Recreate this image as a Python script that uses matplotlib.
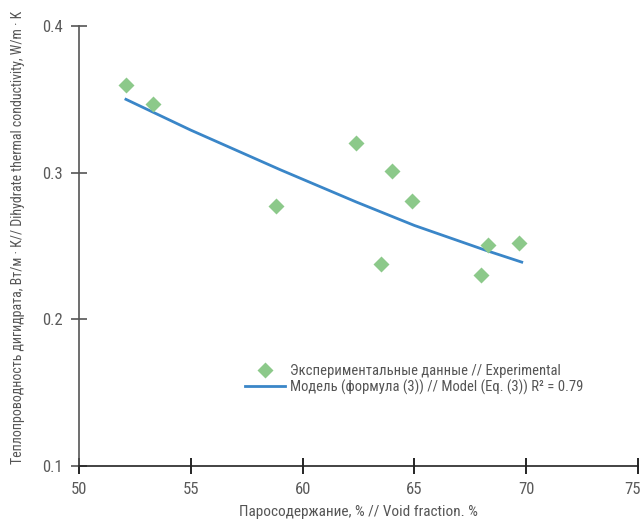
import matplotlib
matplotlib.use('Agg')
import matplotlib.pyplot as plt
import matplotlib.transforms as mtransforms
from matplotlib.lines import Line2D

# данные эксперимента
void_frac = [52.1, 53.3, 58.8, 62.4, 63.5, 64.0, 64.9, 68.0, 68.3, 69.7]
conductivity = [0.360, 0.347, 0.277, 0.320, 0.238, 0.301, 0.281, 0.230, 0.251, 0.252]

model_x = [52.1, 55.0, 59.0, 62.4, 65.0, 68.2, 69.8]
model_y = [0.350, 0.329, 0.302, 0.280, 0.264, 0.247, 0.239]

x_ticks = [50, 55, 60, 65, 70, 75]
y_ticks = [0.1, 0.2, 0.3, 0.4]

plt.rcParams['font.family'] = ['Roboto Condensed', 'Barlow Semi Condensed', 'DejaVu Sans']
plt.rcParams['font.stretch'] = 'condensed'

fig = plt.figure(figsize=(6.4, 5.22), dpi=100)
ax = fig.add_axes([0.1234, 0.1073, 0.8735, 0.8429])

ax.plot(model_x, model_y, color='#3a86c8', lw=2.0, zorder=2)
ax.plot(void_frac, conductivity, 'D', color='#8cc98a', markersize=8, mec='none', zorder=3)

ax.set_xlim(50, 75)
ax.set_ylim(0.1, 0.4)
ax.set_xticks(x_ticks)
ax.set_yticks(y_ticks)
ax.set_xticklabels([str(t) for t in x_ticks])
ax.set_yticklabels(['%.1f' % t for t in y_ticks])

for s in ['top', 'right']:
    ax.spines[s].set_visible(False)
ax.spines['left'].set_color('#555555')
ax.spines['bottom'].set_color('#222222')
ax.spines['left'].set_linewidth(1.2)
ax.spines['bottom'].set_linewidth(1.2)
ax.tick_params(axis='both', direction='inout', length=11, width=1.2,
               labelsize=12, labelcolor='#5a5a5a', pad=6)
ax.tick_params(axis='y', colors='#555555', labelcolor='#5a5a5a')

# последняя подпись "75" чуть левее, чтобы не обрезалась
last = ax.get_xticklabels()[-1]
last.set_transform(last.get_transform() + mtransforms.ScaledTranslation(-6 / 100, 0, fig.dpi_scale_trans))

ax.set_xlabel('Паросодержание, % // Void fraction. %', fontsize=11, color='#555555', labelpad=6)
ax.set_ylabel('Теплопроводность дигидрата, Вт/м · К// Dihydrate thermal conductivity, W/m · K',
              fontsize=10, color='#555555')
ax.yaxis.set_label_coords(-0.097, 0.52)

handles = [Line2D([], [], ls='none', marker='D', color='#8cc98a', mec='none', markersize=8),
           Line2D([], [], color='#3a86c8', lw=2.0)]
labels = ['Экспериментальные данные // Experimental',
          'Модель (формула (3)) // Model (Eq. (3)) R² = 0.79']
ax.legend(handles, labels, loc='upper left', bbox_to_anchor=(0.274, 0.262),
          frameon=False, fontsize=10.5, labelcolor='#555555',
          handlelength=2.75, handletextpad=0.35, labelspacing=0.12)

fig.savefig('out.png', dpi=100)
